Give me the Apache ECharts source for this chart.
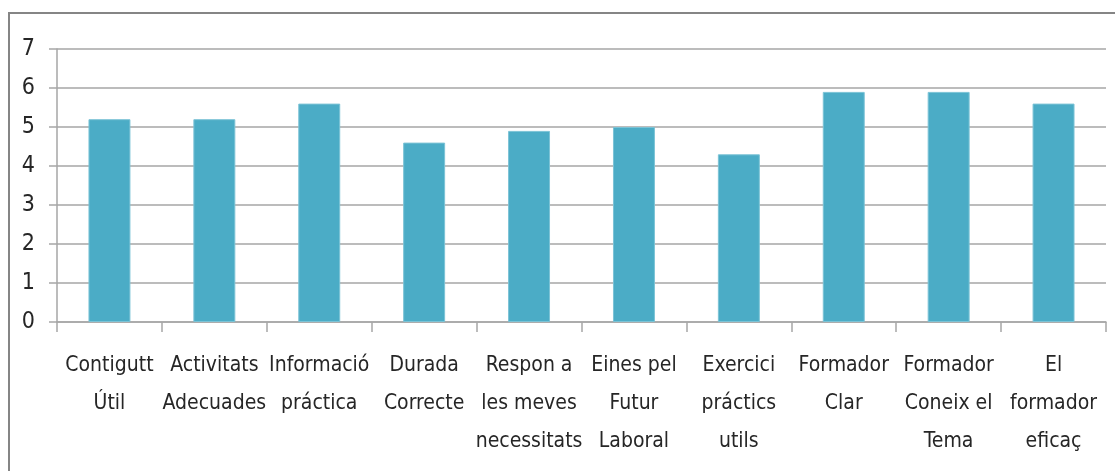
<!DOCTYPE html>
<html>
<head>
<meta charset="utf-8">
<script src="https://cdn.jsdelivr.net/npm/echarts@6/dist/echarts.min.js"></script>
<style>
html,body{margin:0;padding:0;background:#fff;}
#chart{width:1115px;height:471px;}
</style>
</head>
<body>
<div id="chart"></div>
<script>
const categories = [
  "Contigutt\nÚtil",
  "Activitats\nAdecuades",
  "Informació\npráctica",
  "Durada\nCorrecte",
  "Respon a\nles meves\nnecessitats",
  "Eines pel\nFutur\nLaboral",
  "Exercici\npráctics\nutils",
  "Formador\nClar",
  "Formador\nConeix el\nTema",
  "El\nformador\neficaç"
];
const values = [5.2, 5.2, 5.6, 4.6, 4.9, 5.0, 4.3, 5.9, 5.9, 5.6];
const yTicks = [0, 1, 2, 3, 4, 5, 6, 7];

const FONT = '"Liberation Sans Narrow", "DejaVu Sans Condensed", "Liberation Sans", sans-serif';
const chart = echarts.init(document.getElementById('chart'), null, {renderer: 'canvas'});
chart.setOption({
  animation: false,
  backgroundColor: '#ffffff',
  graphic: [{
    type: 'rect',
    shape: {x: 9, y: 13, width: 1300, height: 600},
    style: {fill: 'none', stroke: '#858585', lineWidth: 2},
    silent: true
  }],
  grid: {left: 57, right: 9, top: 49, bottom: 149, containLabel: false},
  xAxis: {
    type: 'category',
    data: categories,
    boundaryGap: true,
    axisLine: {show: true, lineStyle: {color: '#a6a6a6', width: 1.5}},
    axisTick: {show: true, length: 10, lineStyle: {color: '#a6a6a6', width: 1.5}},
    axisLabel: {
      interval: 0,
      margin: 25,
      color: '#262626',
      fontFamily: FONT,
      fontSize: 21,
      lineHeight: 38,
      hideOverlap: false
    }
  },
  yAxis: {
    type: 'value',
    min: yTicks[0],
    max: yTicks[yTicks.length - 1],
    interval: 1,
    axisLine: {show: true, lineStyle: {color: '#a6a6a6', width: 1.5}},
    axisTick: {show: true, length: 8, lineStyle: {color: '#a6a6a6', width: 1.5}},
    splitLine: {show: true, lineStyle: {color: '#a6a6a6', width: 1.5}},
    axisLabel: {
      margin: 22,
      color: '#262626',
      fontFamily: FONT,
      fontSize: 23
    }
  },
  series: [{
    type: 'bar',
    data: values,
    barWidth: '40%',
    itemStyle: {color: '#4bacc6', borderColor: '#7cc3d6', borderWidth: 1}
  }]
});
</script>
</body>
</html>
